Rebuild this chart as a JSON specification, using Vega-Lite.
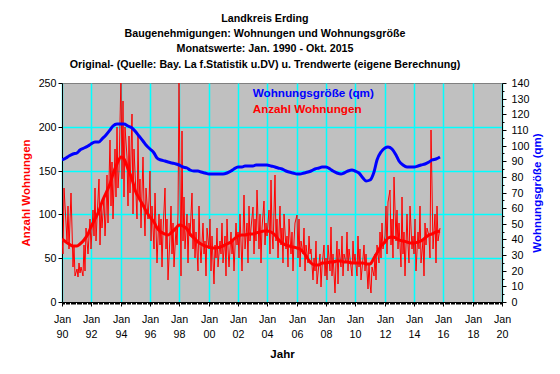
{
"$schema": "https://vega.github.io/schema/vega-lite/v6.json",
"width": 440,
"height": 219,
"autosize": {"type": "none"},
"padding": {"left": 62, "top": 83, "right": 58, "bottom": 72},
"background": "white",
"config": {
  "font": "Liberation Sans",
  "view": {"fill": "#c0c0c0", "stroke": "#808080"},
  "axis": {"labelFont": "Liberation Sans", "labelFontSize": 10.7, "labelColor": "black", "domainColor": "black", "tickColor": "black", "titleFont": "Liberation Sans", "titleFontSize": 11.5, "titleFontWeight": "bold", "gridWidth": 1.5, "gridOpacity": 1}
},
"title": {
  "text": ["Landkreis Erding", "Baugenehmigungen: Wohnungen und Wohnungsgröße", "Monatswerte: Jan. 1990 - Okt. 2015", "Original- (Quelle: Bay. La f.Statistik u.DV) u. Trendwerte (eigene Berechnung)"],
  "font": "Liberation Sans", "fontSize": 10.7, "fontWeight": "bold", "color": "black",
  "lineHeight": 15.3, "anchor": "middle", "frame": "group", "dx": -17, "offset": 6.5
},
"datasets": {
"monthly": [
{"d":"1990-01","n":72},{"d":"1990-02","n":55},{"d":"1990-03","n":130},{"d":"1990-04","n":90},{"d":"1990-05","n":70},{"d":"1990-06","n":110},{"d":"1990-07","n":60},{"d":"1990-08","n":125},{"d":"1990-09","n":85},{"d":"1990-10","n":40},{"d":"1990-11","n":65},{"d":"1990-12","n":30},
{"d":"1991-01","n":38},{"d":"1991-02","n":28},{"d":"1991-03","n":45},{"d":"1991-04","n":33},{"d":"1991-05","n":40},{"d":"1991-06","n":30},{"d":"1991-07","n":65},{"d":"1991-08","n":35},{"d":"1991-09","n":85},{"d":"1991-10","n":55},{"d":"1991-11","n":75},{"d":"1991-12","n":95},
{"d":"1992-01","n":60},{"d":"1992-02","n":105},{"d":"1992-03","n":75},{"d":"1992-04","n":130},{"d":"1992-05","n":70},{"d":"1992-06","n":95},{"d":"1992-07","n":140},{"d":"1992-08","n":65},{"d":"1992-09","n":110},{"d":"1992-10","n":85},{"d":"1992-11","n":120},{"d":"1992-12","n":75},
{"d":"1993-01","n":100},{"d":"1993-02","n":145},{"d":"1993-03","n":90},{"d":"1993-04","n":185},{"d":"1993-05","n":110},{"d":"1993-06","n":160},{"d":"1993-07","n":95},{"d":"1993-08","n":175},{"d":"1993-09","n":120},{"d":"1993-10","n":200},{"d":"1993-11","n":130},{"d":"1993-12","n":150},
{"d":"1994-01","n":260},{"d":"1994-02","n":140},{"d":"1994-03","n":230},{"d":"1994-04","n":120},{"d":"1994-05","n":200},{"d":"1994-06","n":165},{"d":"1994-07","n":110},{"d":"1994-08","n":190},{"d":"1994-09","n":125},{"d":"1994-10","n":215},{"d":"1994-11","n":100},{"d":"1994-12","n":175},
{"d":"1995-01","n":150},{"d":"1995-02","n":95},{"d":"1995-03","n":190},{"d":"1995-04","n":120},{"d":"1995-05","n":140},{"d":"1995-06","n":85},{"d":"1995-07","n":165},{"d":"1995-08","n":110},{"d":"1995-09","n":75},{"d":"1995-10","n":130},{"d":"1995-11","n":95},{"d":"1995-12","n":115},
{"d":"1996-01","n":150},{"d":"1996-02","n":70},{"d":"1996-03","n":110},{"d":"1996-04","n":60},{"d":"1996-05","n":125},{"d":"1996-06","n":85},{"d":"1996-07","n":45},{"d":"1996-08","n":100},{"d":"1996-09","n":65},{"d":"1996-10","n":95},{"d":"1996-11","n":40},{"d":"1996-12","n":80},
{"d":"1997-01","n":130},{"d":"1997-02","n":60},{"d":"1997-03","n":95},{"d":"1997-04","n":25},{"d":"1997-05","n":75},{"d":"1997-06","n":110},{"d":"1997-07","n":55},{"d":"1997-08","n":90},{"d":"1997-09","n":40},{"d":"1997-10","n":85},{"d":"1997-11","n":65},{"d":"1997-12","n":100},
{"d":"1998-01","n":250},{"d":"1998-02","n":30},{"d":"1998-03","n":195},{"d":"1998-04","n":70},{"d":"1998-05","n":120},{"d":"1998-06","n":60},{"d":"1998-07","n":100},{"d":"1998-08","n":45},{"d":"1998-09","n":90},{"d":"1998-10","n":75},{"d":"1998-11","n":125},{"d":"1998-12","n":60},
{"d":"1999-01","n":95},{"d":"1999-02","n":50},{"d":"1999-03","n":80},{"d":"1999-04","n":35},{"d":"1999-05","n":110},{"d":"1999-06","n":65},{"d":"1999-07","n":45},{"d":"1999-08","n":90},{"d":"1999-09","n":55},{"d":"1999-10","n":70},{"d":"1999-11","n":30},{"d":"1999-12","n":85},
{"d":"2000-01","n":60},{"d":"2000-02","n":95},{"d":"2000-03","n":35},{"d":"2000-04","n":75},{"d":"2000-05","n":20},{"d":"2000-06","n":65},{"d":"2000-07","n":50},{"d":"2000-08","n":85},{"d":"2000-09","n":40},{"d":"2000-10","n":70},{"d":"2000-11","n":55},{"d":"2000-12","n":90},
{"d":"2001-01","n":45},{"d":"2001-02","n":75},{"d":"2001-03","n":30},{"d":"2001-04","n":95},{"d":"2001-05","n":60},{"d":"2001-06","n":40},{"d":"2001-07","n":80},{"d":"2001-08","n":55},{"d":"2001-09","n":70},{"d":"2001-10","n":35},{"d":"2001-11","n":90},{"d":"2001-12","n":65},
{"d":"2002-01","n":80},{"d":"2002-02","n":50},{"d":"2002-03","n":100},{"d":"2002-04","n":35},{"d":"2002-05","n":75},{"d":"2002-06","n":122},{"d":"2002-07","n":60},{"d":"2002-08","n":90},{"d":"2002-09","n":45},{"d":"2002-10","n":110},{"d":"2002-11","n":70},{"d":"2002-12","n":85},
{"d":"2003-01","n":109},{"d":"2003-02","n":55},{"d":"2003-03","n":95},{"d":"2003-04","n":70},{"d":"2003-05","n":128},{"d":"2003-06","n":60},{"d":"2003-07","n":100},{"d":"2003-08","n":45},{"d":"2003-09","n":85},{"d":"2003-10","n":115},{"d":"2003-11","n":65},{"d":"2003-12","n":90},
{"d":"2004-01","n":75},{"d":"2004-02","n":105},{"d":"2004-03","n":55},{"d":"2004-04","n":139},{"d":"2004-05","n":80},{"d":"2004-06","n":60},{"d":"2004-07","n":145},{"d":"2004-08","n":70},{"d":"2004-09","n":95},{"d":"2004-10","n":50},{"d":"2004-11","n":110},{"d":"2004-12","n":65},
{"d":"2005-01","n":85},{"d":"2005-02","n":45},{"d":"2005-03","n":100},{"d":"2005-04","n":60},{"d":"2005-05","n":75},{"d":"2005-06","n":40},{"d":"2005-07","n":95},{"d":"2005-08","n":55},{"d":"2005-09","n":80},{"d":"2005-10","n":35},{"d":"2005-11","n":70},{"d":"2005-12","n":90},
{"d":"2006-01","n":99},{"d":"2006-02","n":50},{"d":"2006-03","n":95},{"d":"2006-04","n":40},{"d":"2006-05","n":70},{"d":"2006-06","n":55},{"d":"2006-07","n":85},{"d":"2006-08","n":35},{"d":"2006-09","n":65},{"d":"2006-10","n":45},{"d":"2006-11","n":75},{"d":"2006-12","n":55},
{"d":"2007-01","n":60},{"d":"2007-02","n":25},{"d":"2007-03","n":50},{"d":"2007-04","n":35},{"d":"2007-05","n":70},{"d":"2007-06","n":20},{"d":"2007-07","n":45},{"d":"2007-08","n":55},{"d":"2007-09","n":17},{"d":"2007-10","n":40},{"d":"2007-11","n":65},{"d":"2007-12","n":30},
{"d":"2008-01","n":50},{"d":"2008-02","n":25},{"d":"2008-03","n":65},{"d":"2008-04","n":35},{"d":"2008-05","n":86},{"d":"2008-06","n":30},{"d":"2008-07","n":55},{"d":"2008-08","n":10},{"d":"2008-09","n":45},{"d":"2008-10","n":70},{"d":"2008-11","n":20},{"d":"2008-12","n":60},
{"d":"2009-01","n":40},{"d":"2009-02","n":75},{"d":"2009-03","n":30},{"d":"2009-04","n":55},{"d":"2009-05","n":45},{"d":"2009-06","n":80},{"d":"2009-07","n":35},{"d":"2009-08","n":60},{"d":"2009-09","n":50},{"d":"2009-10","n":30},{"d":"2009-11","n":70},{"d":"2009-12","n":45},
{"d":"2010-01","n":55},{"d":"2010-02","n":30},{"d":"2010-03","n":75},{"d":"2010-04","n":40},{"d":"2010-05","n":60},{"d":"2010-06","n":25},{"d":"2010-07","n":50},{"d":"2010-08","n":65},{"d":"2010-09","n":35},{"d":"2010-10","n":55},{"d":"2010-11","n":15},{"d":"2010-12","n":45},
{"d":"2011-01","n":20},{"d":"2011-02","n":10},{"d":"2011-03","n":40},{"d":"2011-04","n":30},{"d":"2011-05","n":55},{"d":"2011-06","n":25},{"d":"2011-07","n":65},{"d":"2011-08","n":45},{"d":"2011-09","n":80},{"d":"2011-10","n":50},{"d":"2011-11","n":90},{"d":"2011-12","n":60},
{"d":"2012-01","n":75},{"d":"2012-02","n":110},{"d":"2012-03","n":55},{"d":"2012-04","n":114},{"d":"2012-05","n":128},{"d":"2012-06","n":65},{"d":"2012-07","n":95},{"d":"2012-08","n":50},{"d":"2012-09","n":143},{"d":"2012-10","n":70},{"d":"2012-11","n":105},{"d":"2012-12","n":60},
{"d":"2013-01","n":90},{"d":"2013-02","n":40},{"d":"2013-03","n":120},{"d":"2013-04","n":55},{"d":"2013-05","n":80},{"d":"2013-06","n":30},{"d":"2013-07","n":100},{"d":"2013-08","n":65},{"d":"2013-09","n":45},{"d":"2013-10","n":110},{"d":"2013-11","n":60},{"d":"2013-12","n":75},
{"d":"2014-01","n":55},{"d":"2014-02","n":95},{"d":"2014-03","n":35},{"d":"2014-04","n":80},{"d":"2014-05","n":60},{"d":"2014-06","n":110},{"d":"2014-07","n":45},{"d":"2014-08","n":70},{"d":"2014-09","n":30},{"d":"2014-10","n":90},{"d":"2014-11","n":65},{"d":"2014-12","n":85},
{"d":"2015-01","n":75},{"d":"2015-02","n":50},{"d":"2015-03","n":196},{"d":"2015-04","n":132},{"d":"2015-05","n":60},{"d":"2015-06","n":100},{"d":"2015-07","n":45},{"d":"2015-08","n":110},{"d":"2015-09","n":70},{"d":"2015-10","n":85}
],
"trend": [
{"d":"1990-01","t":72,"g":91},{"d":"1990-04","t":69,"g":92},{"d":"1990-07","t":66,"g":93.5},{"d":"1990-10","t":64,"g":94.5},
{"d":"1991-01","t":64,"g":95.5},{"d":"1991-04","t":66,"g":97},{"d":"1991-07","t":71,"g":98.5},{"d":"1991-10","t":78,"g":100},
{"d":"1992-01","t":86,"g":101},{"d":"1992-04","t":95,"g":102},{"d":"1992-07","t":104,"g":102.5},{"d":"1992-10","t":114,"g":104},
{"d":"1993-01","t":124,"g":107},{"d":"1993-04","t":135,"g":110},{"d":"1993-07","t":146,"g":112.5},{"d":"1993-10","t":157,"g":113.5},
{"d":"1994-01","t":165,"g":113.6},{"d":"1994-04","t":163,"g":113.5},{"d":"1994-07","t":152,"g":112.5},{"d":"1994-10","t":140,"g":111},
{"d":"1995-01","t":128,"g":109},{"d":"1995-04","t":119,"g":106},{"d":"1995-07","t":111,"g":103},{"d":"1995-10","t":104,"g":100.5},
{"d":"1996-01","t":97,"g":98},{"d":"1996-04","t":91,"g":95},{"d":"1996-07","t":85,"g":92},{"d":"1996-10","t":80,"g":90.5},
{"d":"1997-01","t":78,"g":90},{"d":"1997-04","t":77,"g":89.5},{"d":"1997-07","t":80,"g":89},{"d":"1997-10","t":85,"g":88},
{"d":"1998-01","t":88,"g":87.5},{"d":"1998-04","t":87,"g":86.5},{"d":"1998-07","t":83,"g":85.5},{"d":"1998-10","t":78,"g":84.5},
{"d":"1999-01","t":73,"g":84},{"d":"1999-04","t":69,"g":83.5},{"d":"1999-07","t":66,"g":83},{"d":"1999-10","t":64,"g":82.5},
{"d":"2000-01","t":63,"g":82},{"d":"2000-04","t":62,"g":82},{"d":"2000-07","t":62,"g":82},{"d":"2000-10","t":63,"g":82},
{"d":"2001-01","t":64,"g":82},{"d":"2001-04","t":66,"g":82.5},{"d":"2001-07","t":69,"g":83.5},{"d":"2001-10","t":72,"g":85},
{"d":"2002-01","t":75,"g":86},{"d":"2002-04","t":76,"g":86.5},{"d":"2002-07","t":77,"g":87},{"d":"2002-10","t":78,"g":87},
{"d":"2003-01","t":78,"g":87},{"d":"2003-04","t":79,"g":87.3},{"d":"2003-07","t":80,"g":87.5},{"d":"2003-10","t":81,"g":87.6},
{"d":"2004-01","t":81,"g":87.6},{"d":"2004-04","t":80,"g":87.2},{"d":"2004-07","t":77,"g":86.5},{"d":"2004-10","t":72,"g":85.5},
{"d":"2005-01","t":67,"g":84.8},{"d":"2005-04","t":65,"g":84},{"d":"2005-07","t":64,"g":83},{"d":"2005-10","t":63,"g":82.3},
{"d":"2006-01","t":62,"g":82},{"d":"2006-04","t":60,"g":82},{"d":"2006-07","t":56,"g":82.5},{"d":"2006-10","t":49,"g":83.2},
{"d":"2007-01","t":44,"g":84},{"d":"2007-04","t":42,"g":84.8},{"d":"2007-07","t":42,"g":85.5},{"d":"2007-10","t":44,"g":86},
{"d":"2008-01","t":45,"g":86},{"d":"2008-04","t":46,"g":85},{"d":"2008-07","t":46,"g":83.5},{"d":"2008-10","t":47,"g":82.3},
{"d":"2009-01","t":47,"g":82},{"d":"2009-04","t":46,"g":82.5},{"d":"2009-07","t":46,"g":83.5},{"d":"2009-10","t":45,"g":84.2},
{"d":"2010-01","t":45,"g":84},{"d":"2010-04","t":45,"g":82.3},{"d":"2010-07","t":45,"g":79},{"d":"2010-10","t":43,"g":77.3},
{"d":"2011-01","t":43,"g":77.8},{"d":"2011-04","t":50,"g":83},{"d":"2011-07","t":56,"g":90.5},{"d":"2011-10","t":64,"g":96},
{"d":"2012-01","t":69,"g":98.7},{"d":"2012-04","t":73,"g":99.3},{"d":"2012-07","t":74.6,"g":97.8},{"d":"2012-10","t":73,"g":94},
{"d":"2013-01","t":71,"g":90},{"d":"2013-04","t":70,"g":87.6},{"d":"2013-07","t":68,"g":86},{"d":"2013-10","t":67,"g":86},
{"d":"2014-01","t":67.7,"g":86.2},{"d":"2014-04","t":68,"g":86.8},{"d":"2014-07","t":70,"g":87.6},{"d":"2014-10","t":73,"g":88.5},
{"d":"2015-01","t":77,"g":89.5},{"d":"2015-04","t":78,"g":90.5},{"d":"2015-07","t":80,"g":91.5},{"d":"2015-10","t":81,"g":92.7}
]
},
"encoding": {
  "x": {
    "field": "d", "type": "temporal",
    "scale": {"type": "utc", "round": true, "domain": [{"year": 1990, "month": 1, "date": 1, "utc": true}, {"year": 2020, "month": 1, "date": 1, "utc": true}]},
    "axis": {
      "title": "Jahr", "titleColor": "black", "titlePadding": 10,
      "tickCount": {"interval": "month", "step": 1},
      "labelExpr": "utcmonth(datum.value) == 0 && utcyear(datum.value) % 2 == 0 ? ['Jan', utcFormat(datum.value, '%y')] : ''",
      "labelOverlap": false, "labelFlush": false, "labelBound": false, "labelPadding": 8, "labelLineHeight": 15, "labelAlign": "center",
      "grid": true,
      "gridColor": {"condition": {"test": "utcmonth(datum.value) == 0 && utcyear(datum.value) % 2 == 0", "value": "#00ffff"}, "value": "transparent"},
      "tickSize": {"condition": {"test": "utcmonth(datum.value) == 0 && utcyear(datum.value) % 2 == 0", "value": 4}, "value": 2}
    }
  }
},
"layer": [
  {
    "layer": [
      {
        "data": {"name": "monthly"},
        "mark": {"type": "line", "color": "#ff0000", "strokeWidth": 1, "clip": true},
        "encoding": {
          "y": {
            "field": "n", "type": "quantitative",
            "scale": {"domain": [0, 250], "nice": false, "round": true},
            "axis": {
              "title": "Anzahl Wohnungen", "titleColor": "#ff0000", "titlePadding": 7,
              "values": [0, 12.5, 25, 37.5, 50, 62.5, 75, 87.5, 100, 112.5, 125, 137.5, 150, 162.5, 175, 187.5, 200, 212.5, 225, 237.5, 250],
              "format": "d",
              "labelExpr": "datum.value % 25 == 0 ? datum.label : ''",
              "labelOverlap": false, "labelFlush": false, "labelBound": false,
              "grid": true,
              "gridColor": {"condition": {"test": "datum.value % 25 == 0 && datum.value > 0 && datum.value < 250", "value": "#00ffff"}, "value": "transparent"},
              "tickSize": {"condition": {"test": "datum.value % 25 == 0", "value": 4}, "value": 2}
            }
          }
        }
      },
      {
        "data": {"name": "trend"},
        "mark": {"type": "line", "strokeWidth": 3, "interpolate": "monotone", "clip": true},
        "encoding": {
          "y": {
            "field": "t", "type": "quantitative",
            "axis": {
              "title": "Anzahl Wohnungen", "titleColor": "#ff0000", "titlePadding": 7,
              "values": [0, 12.5, 25, 37.5, 50, 62.5, 75, 87.5, 100, 112.5, 125, 137.5, 150, 162.5, 175, 187.5, 200, 212.5, 225, 237.5, 250],
              "format": "d",
              "labelExpr": "datum.value % 25 == 0 ? datum.label : ''",
              "labelOverlap": false, "labelFlush": false, "labelBound": false,
              "grid": true,
              "gridColor": {"condition": {"test": "datum.value % 25 == 0 && datum.value > 0 && datum.value < 250", "value": "#00ffff"}, "value": "transparent"},
              "tickSize": {"condition": {"test": "datum.value % 25 == 0", "value": 4}, "value": 2}
            }
          },
          "color": {
            "datum": "Anzahl Wohnungen", "type": "nominal",
            "scale": {"domain": ["Wohnungsgröße (qm)", "Anzahl Wohnungen"], "range": ["#0000ff", "#ff0000"]},
            "legend": {
              "orient": "none", "legendX": 179, "legendY": 4, "title": null,
              "symbolSize": 0, "symbolStrokeWidth": 0, "symbolOpacity": 0, "labelOffset": 0, "padding": 0, "rowPadding": 3.6,
              "labelFont": "Liberation Sans", "labelFontSize": 11.7, "labelFontWeight": "bold", "labelLimit": 0,
              "encode": {"labels": {"update": {"fill": {"signal": "datum.value === 'Anzahl Wohnungen' ? '#ff0000' : '#0000ff'"}}}}
            }
          }
        }
      },
      {
        "data": {"values": [{}]},
        "mark": {"type": "text", "align": "left", "baseline": "middle", "fontWeight": "bold", "fontSize": 11.3, "font": "Liberation Sans", "color": "black"},
        "encoding": {
          "x": {"datum": {"year": 1990, "month": 9, "date": 1, "utc": true}, "type": "temporal"},
          "y": {"datum": 18, "type": "quantitative"},
          "text": {"value": "© StratCon"}
        }
      }
    ]
  },
  {
    "data": {"name": "trend"},
    "mark": {"type": "line", "strokeWidth": 3, "interpolate": "monotone", "clip": true},
    "encoding": {
      "y": {
        "field": "g", "type": "quantitative",
        "scale": {"domain": [0, 140], "nice": false, "round": true},
        "axis": {
          "orient": "right", "title": "Wohnungsgröße (qm)", "titleColor": "#0000ff", "titleAngle": 270, "titlePadding": 14,
          "values": [0, 5, 10, 15, 20, 25, 30, 35, 40, 45, 50, 55, 60, 65, 70, 75, 80, 85, 90, 95, 100, 105, 110, 115, 120, 125, 130, 135, 140],
          "format": "d", "labelPadding": 5,
          "labelExpr": "datum.value % 10 == 0 ? datum.label : ''",
          "labelOverlap": false, "labelFlush": false, "labelBound": false,
          "grid": false,
          "tickSize": {"condition": {"test": "datum.value % 10 == 0", "value": 4}, "value": 2}
        }
      },
      "color": {
        "datum": "Wohnungsgröße (qm)", "type": "nominal",
        "scale": {"domain": ["Wohnungsgröße (qm)", "Anzahl Wohnungen"], "range": ["#0000ff", "#ff0000"]}
      }
    }
  }
],
"resolve": {"scale": {"y": "independent"}}
}
